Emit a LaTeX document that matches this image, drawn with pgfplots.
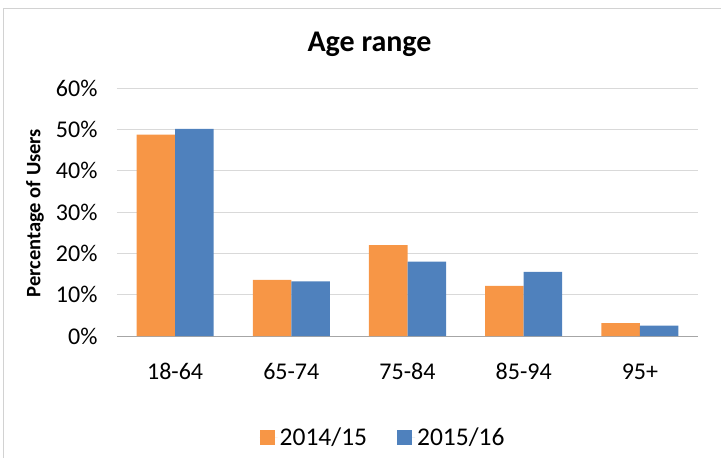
\documentclass[border=0pt]{standalone}
\usepackage{pgfplots}
\pgfplotsset{compat=1.18}
\usepackage{fontspec}
\setmainfont{Carlito}

\definecolor{xlorange}{HTML}{F79646}
\definecolor{xlblue}{HTML}{4F81BD}
\definecolor{gridgray}{HTML}{D9D9D9}

\begin{document}
\begin{tikzpicture}
    % chart frame (reference is cropped on the right and bottom)
    \path[use as bounding box] (-117bp,-122bp) rectangle (604bp,336bp);
    \draw[gray!35, line width=1bp] (-113bp,-122bp) -- (-113bp,327bp) -- (604bp,327bp);

    \begin{axis}[
        scale only axis,
        width=581bp, height=248bp,
        ybar=0pt,
        bar width=38.5bp,
        xmin=-0.5, xmax=4.5,
        ymin=0, ymax=60,
        xtick={0,1,2,3,4},
        xticklabels={18-64,65-74,75-84,85-94,95+},
        ytick={0,10,20,30,40,50,60},
        yticklabels={0\%,10\%,20\%,30\%,40\%,50\%,60\%},
        major tick length=0pt,
        axis lines=left,
        axis line style={-},
        y axis line style={draw=none},
        x axis line style={draw=gray!70, line width=1bp},
        ymajorgrids,
        grid style={gridgray, line width=1bp},
        tick label style={font=\fontsize{24bp}{28bp}\selectfont},
        xticklabel style={anchor=base, yshift=-43bp},
        yticklabel style={xshift=-16bp},
        title={Age range},
        title style={font=\fontsize{30bp}{34bp}\selectfont\bfseries,
            at={(axis description cs:0.4346,1.125)}, anchor=base},
        ylabel={Percentage of Users},
        ylabel style={font=\fontsize{20.5bp}{24bp}\selectfont\bfseries,
            at={(axis description cs:-0.141,0.496)}, anchor=center, rotate=0},
        legend style={draw=none, font=\fontsize{25.5bp}{29bp}\selectfont,
            at={(axis description cs:0.458,-0.409)}, anchor=center,
            legend columns=2,
            /tikz/every even column/.append style={column sep=28bp}},
        legend image code/.code={%
            \path (0bp,0bp) -- (18bp,0bp);
            \fill[#1] (0bp,-7.5bp) rectangle (15bp,7.5bp);},
    ]
    \addplot[draw=none, fill=xlorange] coordinates {
        (0,48.7) (1,13.6) (2,22.0) (3,12.1) (4,3.1)
    };
    \addplot[draw=none, fill=xlblue] coordinates {
        (0,50.1) (1,13.2) (2,18.0) (3,15.5) (4,2.5)
    };
    \legend{2014/15, 2015/16}
    \end{axis}
\end{tikzpicture}
\end{document}
